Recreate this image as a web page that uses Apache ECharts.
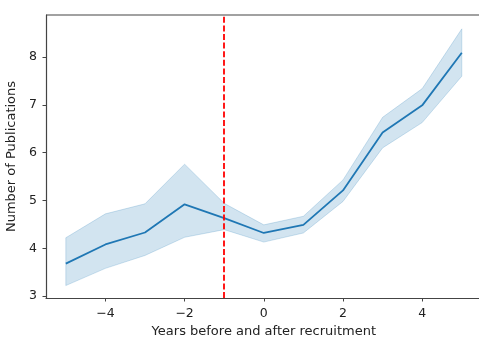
<!DOCTYPE html>
<html>
<head>
<meta charset="utf-8">
<script src="https://cdn.jsdelivr.net/npm/echarts@6/dist/echarts.min.js"></script>
<style>
html,body{margin:0;padding:0;background:#fff;}
#chart{width:479px;height:339px;}
</style>
</head>
<body>
<div id="chart"></div>
<script>
// Data
const years = [-5, -4, -3, -2, -1, 0, 1, 2, 3, 4, 5];
const meanPubs = [3.68, 4.08, 4.33, 4.92, 4.63, 4.32, 4.49, 5.21, 6.42, 6.99, 8.09];
const upperCI = [4.22, 4.72, 4.93, 5.76, 4.94, 4.49, 4.67, 5.43, 6.74, 7.34, 8.59];
const lowerCI = [3.22, 3.58, 3.85, 4.23, 4.39, 4.13, 4.32, 4.98, 6.10, 6.63, 7.60];
const recruitmentYear = -1;
const xTicks = [-4, -2, 0, 2, 4];
const yTicks = [3, 4, 5, 6, 7, 8];

const blue = '#1f77b4';
const font = 'DejaVu Sans';
const minus = v => String(v).replace('-', '\u2212');

const chart = echarts.init(document.getElementById('chart'), null, {renderer: 'canvas'});
chart.setOption({
  animation: false,
  backgroundColor: '#ffffff',
  grid: {left: 46, top: 15, width: 435.6, height: 283, containLabel: false, outerBoundsMode: 'none'},
  xAxis: {
    type: 'value', min: -5.5, max: 5.5,
    name: 'Years before and after recruitment',
    nameLocation: 'middle', nameGap: 27,
    nameTextStyle: {fontFamily: font, fontSize: 13, color: '#222'},
    axisLine: {show: true, onZero: false, lineStyle: {color: '#444', width: 1.2}},
    axisTick: {show: true, length: 3.5, customValues: xTicks, lineStyle: {color: '#444', width: 1}},
    axisLabel: {customValues: xTicks, margin: 9, fontFamily: font, fontSize: 12.5, color: '#222', formatter: minus},
    splitLine: {show: false}
  },
  yAxis: {
    type: 'value', min: 2.96, max: 8.88,
    name: 'Number of Publications',
    nameLocation: 'middle', nameGap: 24,
    nameTextStyle: {fontFamily: font, fontSize: 13, color: '#222'},
    axisLine: {show: true, onZero: false, lineStyle: {color: '#444', width: 1.2}},
    axisTick: {show: true, length: 3.5, customValues: yTicks, lineStyle: {color: '#444', width: 1}},
    axisLabel: {customValues: yTicks, margin: 9, fontFamily: font, fontSize: 12.5, color: '#222'},
    splitLine: {show: false}
  },
  graphic: [{
    type: 'line', shape: {x1: 46, y1: 15, x2: 479, y2: 15},
    style: {stroke: '#444', lineWidth: 1.2}, silent: true
  }],
  series: [
    {
      type: 'custom', name: 'band', z: 1, silent: true,
      data: [0],
      renderItem: function (params, api) {
        const pts = [];
        for (let i = 0; i < years.length; i++) pts.push(api.coord([years[i], upperCI[i]]));
        for (let i = years.length - 1; i >= 0; i--) pts.push(api.coord([years[i], lowerCI[i]]));
        return {
          type: 'polygon',
          shape: {points: pts},
          style: {fill: 'rgba(31,119,180,0.2)', stroke: 'rgba(31,119,180,0.2)', lineWidth: 1}
        };
      }
    },
    {
      type: 'line', name: 'mean', symbol: 'none',
      data: years.map((x, i) => [x, meanPubs[i]]),
      lineStyle: {color: blue, width: 1.8},
      z: 3,
      markLine: {
        silent: true, symbol: 'none', label: {show: false},
        lineStyle: {color: '#ff0000', width: 1.8, type: [6, 2.6]},
        data: [{xAxis: recruitmentYear}]
      }
    }
  ]
});
</script>
</body>
</html>
